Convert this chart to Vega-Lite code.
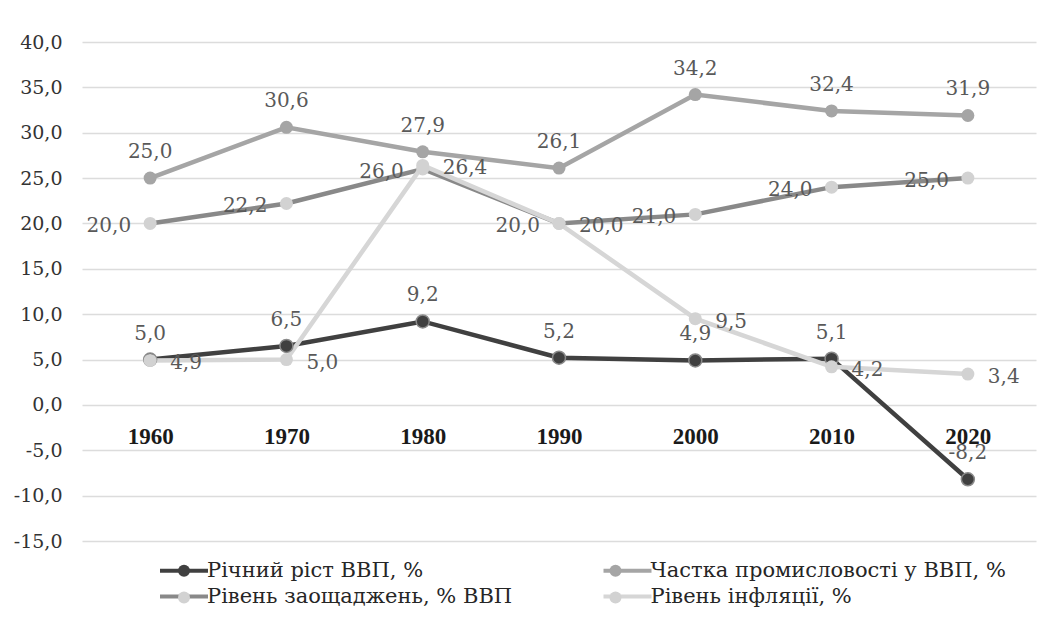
{
  "$schema": "https://vega.github.io/schema/vega-lite/v6.json",
  "width": 954,
  "height": 499,
  "autosize": {"type": "none"},
  "padding": {"left": 82, "top": 42, "right": 13, "bottom": 76},
  "background": "white",
  "config": {
    "view": {"stroke": null},
    "font": "DejaVu Serif",
    "locale": {
      "number": {"decimal": ",", "thousands": " ", "grouping": [3], "currency": ["", " грн"], "minus": "-"}
    }
  },
  "data": {
    "values": [
      {"year": "1960", "series": "Річний ріст ВВП, %", "value": 5.0},
      {"year": "1970", "series": "Річний ріст ВВП, %", "value": 6.5},
      {"year": "1980", "series": "Річний ріст ВВП, %", "value": 9.2},
      {"year": "1990", "series": "Річний ріст ВВП, %", "value": 5.2},
      {"year": "2000", "series": "Річний ріст ВВП, %", "value": 4.9},
      {"year": "2010", "series": "Річний ріст ВВП, %", "value": 5.1},
      {"year": "2020", "series": "Річний ріст ВВП, %", "value": -8.2},
      {"year": "1960", "series": "Частка промисловості у ВВП, %", "value": 25.0},
      {"year": "1970", "series": "Частка промисловості у ВВП, %", "value": 30.6},
      {"year": "1980", "series": "Частка промисловості у ВВП, %", "value": 27.9},
      {"year": "1990", "series": "Частка промисловості у ВВП, %", "value": 26.1},
      {"year": "2000", "series": "Частка промисловості у ВВП, %", "value": 34.2},
      {"year": "2010", "series": "Частка промисловості у ВВП, %", "value": 32.4},
      {"year": "2020", "series": "Частка промисловості у ВВП, %", "value": 31.9},
      {"year": "1960", "series": "Рівень заощаджень, % ВВП", "value": 20.0},
      {"year": "1970", "series": "Рівень заощаджень, % ВВП", "value": 22.2},
      {"year": "1980", "series": "Рівень заощаджень, % ВВП", "value": 26.0},
      {"year": "1990", "series": "Рівень заощаджень, % ВВП", "value": 20.0},
      {"year": "2000", "series": "Рівень заощаджень, % ВВП", "value": 21.0},
      {"year": "2010", "series": "Рівень заощаджень, % ВВП", "value": 24.0},
      {"year": "2020", "series": "Рівень заощаджень, % ВВП", "value": 25.0},
      {"year": "1960", "series": "Рівень інфляції, %", "value": 4.9},
      {"year": "1970", "series": "Рівень інфляції, %", "value": 5.0},
      {"year": "1980", "series": "Рівень інфляції, %", "value": 26.4},
      {"year": "1990", "series": "Рівень інфляції, %", "value": 20.0},
      {"year": "2000", "series": "Рівень інфляції, %", "value": 9.5},
      {"year": "2010", "series": "Рівень інфляції, %", "value": 4.2},
      {"year": "2020", "series": "Рівень інфляції, %", "value": 3.4}
    ]
  },
  "encoding": {
    "x": {
      "field": "year", "type": "ordinal",
      "scale": {"type": "point", "padding": 0.5},
      "axis": {
        "title": null, "orient": "bottom", "offset": -136, "domain": false, "ticks": false, "grid": false,
        "labelAngle": 0, "labelFont": "Liberation Serif", "labelFontSize": 23, "labelFontWeight": "bold",
        "labelColor": "#1a1a1a", "labelPadding": 20
      }
    },
    "y": {
      "field": "value", "type": "quantitative",
      "scale": {"domain": [-15, 40], "nice": false, "zero": false},
      "axis": {
        "title": null, "values": [-15, -10, -5, 0, 5, 10, 15, 20, 25, 30, 35, 40], "format": ".1f",
        "domain": false, "ticks": false, "grid": true, "gridColor": "#dcdcdc", "gridWidth": 1.5,
        "labelFont": "DejaVu Serif", "labelFontSize": 19, "labelColor": "#333333", "labelPadding": 20
      }
    }
  },
  "layer": [
    {
      "mark": {"type": "line", "strokeWidth": 4.5},
      "encoding": {
        "stroke": {
          "field": "series", "type": "nominal",
          "scale": {
            "domain": ["Річний ріст ВВП, %", "Рівень заощаджень, % ВВП", "Частка промисловості у ВВП, %", "Рівень інфляції, %"],
            "range": ["#404040", "#898989", "#a5a5a5", "#d6d6d6"]
          },
          "legend": {
            "title": null, "orient": "none", "legendX": 91.5, "legendY": 518, "columns": 2,
            "symbolType": "M-4,0H4", "symbolSize": 144, "symbolStrokeWidth": 4,
            "labelFont": "DejaVu Serif", "labelFontSize": 21, "labelColor": "#262626",
            "labelOffset": 12.5, "columnPadding": 82.5, "rowPadding": 4, "labelLimit": 500
          }
        }
      }
    },
    {
      "mark": {"type": "point", "filled": true, "opacity": 1, "size": 169, "strokeWidth": 1.5},
      "encoding": {
        "fill": {
          "field": "series", "type": "nominal",
          "sort": ["Річний ріст ВВП, %", "Рівень заощаджень, % ВВП", "Частка промисловості у ВВП, %", "Рівень інфляції, %"],
          "scale": {"range": ["#404040", "#d2d2d2", "#a5a5a5", "#d2d2d2"]},
          "legend": {
            "title": null, "orient": "none", "legendX": 91.5, "legendY": 518, "columns": 2,
            "symbolType": "circle", "symbolSize": 144, "symbolStrokeWidth": 4, "symbolStrokeColor": "transparent",
            "labelFont": "DejaVu Serif", "labelFontSize": 21, "labelOpacity": 0,
            "labelOffset": 12.5, "columnPadding": 88.5, "rowPadding": -2, "labelLimit": 500
          }
        },
        "stroke": {
          "condition": {"test": "datum.series === 'Річний ріст ВВП, %'", "value": "#8a8a8a"},
          "value": "transparent"
        }
      }
    },
    {
      "transform": [{"filter": "datum.series === 'Річний ріст ВВП, %' || datum.series === 'Частка промисловості у ВВП, %'"}],
      "mark": {"type": "text", "font": "DejaVu Serif", "fontSize": 20, "color": "#595959", "align": "center", "baseline": "alphabetic", "dy": -20},
      "encoding": {"text": {"field": "value", "type": "quantitative", "format": ".1f"}}
    },
    {
      "transform": [{"filter": "datum.series === 'Рівень заощаджень, % ВВП'"}],
      "mark": {"type": "text", "font": "DejaVu Serif", "fontSize": 20, "color": "#595959", "align": "right", "baseline": "alphabetic", "dx": -19, "dy": 9},
      "encoding": {"text": {"field": "value", "type": "quantitative", "format": ".1f"}}
    },
    {
      "transform": [{"filter": "datum.series === 'Рівень інфляції, %'"}],
      "mark": {"type": "text", "font": "DejaVu Serif", "fontSize": 20, "color": "#595959", "align": "left", "baseline": "alphabetic", "dx": 20, "dy": 9},
      "encoding": {"text": {"field": "value", "type": "quantitative", "format": ".1f"}}
    }
  ]
}
